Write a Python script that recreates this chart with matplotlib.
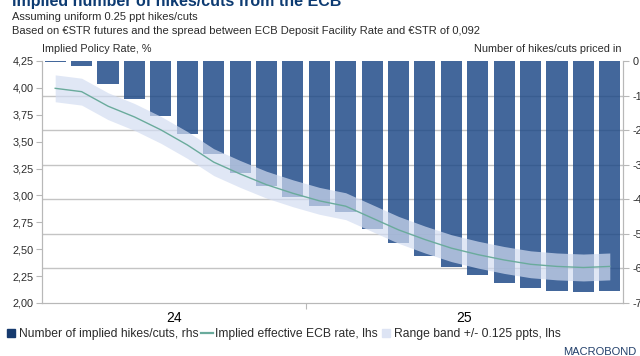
import numpy as np
import matplotlib
matplotlib.use("Agg")
import matplotlib.pyplot as plt
from matplotlib.lines import Line2D
from matplotlib.ticker import FuncFormatter

plt.rcParams['font.family'] = ['Liberation Sans', 'DejaVu Sans']
plt.rcParams['axes.unicode_minus'] = False

# monthly points, Mar 2024 .. Dec 2025
months = ['2024-03', '2024-04', '2024-05', '2024-06', '2024-07', '2024-08', '2024-09',
          '2024-10', '2024-11', '2024-12', '2025-01', '2025-02', '2025-03', '2025-04',
          '2025-05', '2025-06', '2025-07', '2025-08', '2025-09', '2025-10', '2025-11',
          '2025-12']
hikes_cuts = [-0.02, -0.14, -0.66, -1.10, -1.58, -2.11, -2.70, -3.24, -3.63, -3.94, -4.19,
              -4.38, -4.86, -5.27, -5.64, -5.96, -6.20, -6.41, -6.57, -6.64, -6.68, -6.64]
implied_rate = [3.996, 3.965, 3.83, 3.73, 3.61, 3.47, 3.31, 3.20, 3.10, 3.02, 2.95,
                2.90, 2.79, 2.68, 2.59, 2.51, 2.45, 2.40, 2.36, 2.34, 2.33, 2.34]
band_half = 0.125
year_labels = ['24', '25']

BAR = '#1a4685'
LINE = '#6aab9c'
BAND = '#d3ddf2'
GRID = '#c4c4c4'
TXT = '#2b2b2b'
SPINE = '#b8b8b8'

x = np.arange(len(months)) + 0.5
rate = np.asarray(implied_rate)

fig = plt.figure(figsize=(6.4, 3.56), dpi=100)
ax = fig.add_axes([42 / 640, 1 - 303 / 356, (623 - 42) / 640, (303 - 61) / 356])
ax2 = ax.twinx()

# bars on the right-hand scale, drawn underneath
ax2.bar(x, hikes_cuts, width=0.8, color=BAR, alpha=0.82, zorder=2)
for yv in range(-6, 0):
    ax2.axhline(yv, color=GRID, lw=1.0, zorder=1)
ax2.set_ylim(-7, 0)
ax2.set_yticks(range(-7, 1))
ax2.yaxis.set_major_formatter(FuncFormatter(lambda v, p: f"{int(v)}"))

# rate line and band on top
ax.set_zorder(ax2.get_zorder() + 1)
ax.patch.set_visible(False)
ax.fill_between(x, rate - band_half, rate + band_half, color=BAND, alpha=0.7, lw=0, zorder=2)
ax.plot(x, rate, color=LINE, lw=1.0, zorder=3)
ax.set_ylim(2.0, 4.25)
ax.set_yticks(np.arange(2.0, 4.26, 0.25))
ax.yaxis.set_major_formatter(FuncFormatter(lambda v, p: f"{v:.2f}".replace('.', ',')))

ax.set_xlim(0, len(months))
ax.set_xticks([10])
ax.set_xticklabels([])
ax.set_xticks([5, 16], minor=True)
ax.set_xticklabels(year_labels, minor=True)
ax.tick_params(axis='x', which='minor', length=0, pad=6)
ax.tick_params(axis='x', which='major', length=4, color=SPINE)

for a in (ax, ax2):
    for side in ('left', 'right', 'bottom'):
        a.spines[side].set_color(SPINE)
    a.spines['top'].set_visible(False)
    a.tick_params(labelsize=7.8, labelcolor=TXT, color=SPINE, length=4, width=0.8)
ax.tick_params(axis='y', pad=2)
ax2.tick_params(axis='y', pad=3)

fig.text(12 / 640, 1 - 6 / 356, 'Implied number of hikes/cuts from the ECB',
         fontsize=11.5, fontweight='bold', color='#0d3b72', va='baseline')
fig.text(12 / 640, 1 - 20.5 / 356, 'Assuming uniform 0.25 ppt hikes/cuts',
         fontsize=8, color=TXT, va='baseline')
fig.text(12 / 640, 1 - 33.5 / 356,
         'Based on €STR futures and the spread between ECB Deposit Facility Rate and €STR of 0,092',
         fontsize=8, color=TXT, va='baseline')
fig.text(42 / 640, 1 - 51.5 / 356, 'Implied Policy Rate, %', fontsize=7.8, color=TXT, va='baseline')
fig.text(622 / 640, 1 - 51.5 / 356, 'Number of hikes/cuts priced in', fontsize=7.8, color=TXT,
         va='baseline', ha='right')

handles = [
    Line2D([], [], marker='s', ls='none', color='#163a6e', markersize=5.5),
    Line2D([], [], color=LINE, lw=1.6),
    Line2D([], [], marker='s', ls='none', color='#dde4f4', markersize=5.5),
]
labels = ['Number of implied hikes/cuts, rhs', 'Implied effective ECB rate, lhs',
          'Range band +/- 0.125 ppts, lhs']
fig.legend(handles, labels, loc='center left', bbox_to_anchor=(5 / 640, 1 - 334 / 356),
           ncol=3, frameon=False, fontsize=8.7, handlelength=1.0, handletextpad=0.15,
           columnspacing=0.2, borderaxespad=0, borderpad=0, labelcolor=TXT)

fig.text(563 / 640, 1 - 357 / 356, 'MACROBOND', fontsize=8, color='#23406b', va='bottom')

fig.savefig('out.png', dpi=100)
